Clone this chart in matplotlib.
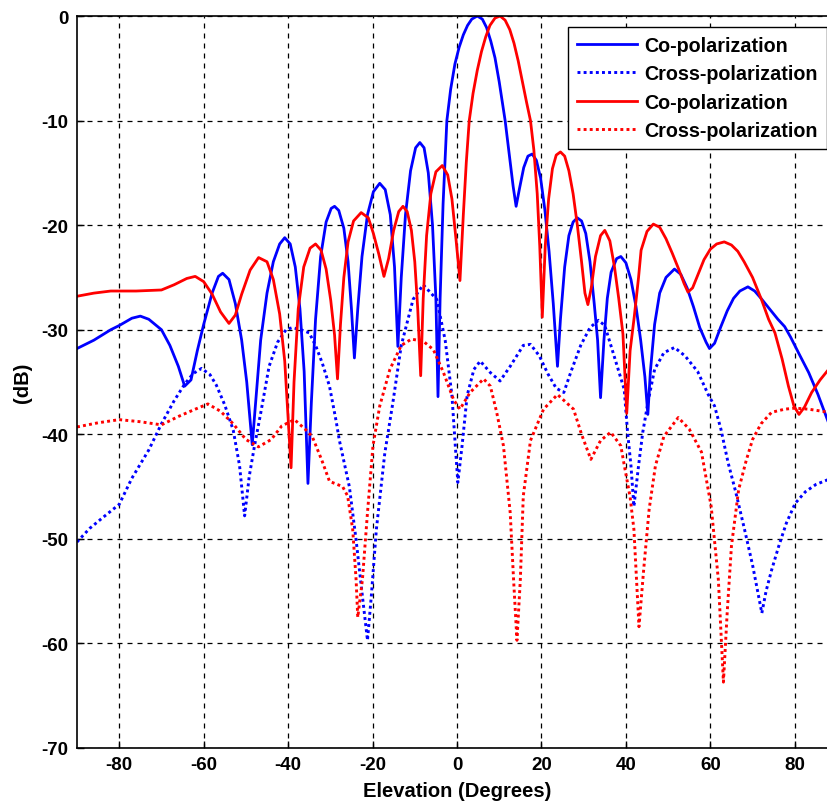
import matplotlib
matplotlib.use("Agg")
import matplotlib.pyplot as plt
from matplotlib import font_manager

# =====================================================
# DATA
# =====================================================

blue_co_x = [-90, -86, -82, -80, -77, -75, -73, -70, -68, -66, -64.5, -63, -61.5, -60, -58,
             -56.5, -55.5, -54, -52.5, -51, -49.8, -48.5, -47.5, -46.5, -45, -43.5, -42,
             -40.8, -39.5, -38.3, -37.2, -36.2, -35.3, -34.5, -33.5, -32.3, -31, -29.8, -29,
             -28, -26.8, -25.8, -25, -24.3, -23.5, -22.5, -21.2, -19.8, -18.3, -17, -15.8,
             -14.8, -14, -13.2, -12.2, -11, -9.8, -8.8, -7.8, -6.8, -5.8, -5, -4.5, -4, -3.3,
             -2.4, -1.5, -0.5, 0.5, 1.5, 2.5, 3.5, 4.8, 6, 7, 8, 9, 10, 11.4, 12.5, 13.3, 14,
             14.8, 15.8, 16.8, 17.8, 18.8, 19.8, 20.8, 21.8, 22.8, 23.8, 24.5, 25.5, 26.5,
             27.5, 28.5, 29.5, 30.5, 31.5, 32.5, 33.3, 34, 34.8, 35.6, 36.5, 37.8, 38.8, 40,
             41.2, 42.4, 43.5, 44.5, 45.2, 45.8, 46.8, 48, 49.5, 51.5, 53, 54.5, 56, 57.5, 59,
             59.8, 61, 62.5, 64, 65.5, 67, 68.9, 70.5, 72, 74, 76, 77.6, 79, 81, 83.3, 85.5,
             88, 90]
blue_co_y = [-31.8, -31.0, -30.0, -29.6, -28.9, -28.7, -29.0, -30.0, -31.5, -33.5, -35.4, -34.8,
             -32.0, -29.5, -26.5, -24.9, -24.6, -25.2, -27.5, -31, -35, -41, -36, -31, -26.5,
             -23.5, -21.8, -21.2, -21.8, -24, -28, -34, -44.7, -37, -29, -23, -19.7, -18.4,
             -18.2, -18.6, -20.3, -23.5, -28, -32.7, -28, -23, -19, -16.8, -16.0, -16.6, -19,
             -24, -31.6, -25, -19, -14.8, -12.6, -12.1, -12.6, -15, -20, -27, -36.4, -27, -18,
             -10, -7, -4.6, -3.0, -1.8, -0.9, -0.3, 0, -0.3, -1.1, -2.4, -4.0, -6.3, -10,
             -13.6, -16.3, -18.2, -16.5, -14.5, -13.4, -13.2, -13.8, -15.5, -18.5, -22.5,
             -27.5, -33.5, -29, -24, -21, -19.7, -19.3, -19.6, -20.8, -23.5, -27.5, -31,
             -36.5, -31, -27, -24.5, -23.2, -23.0, -23.6, -25.2, -27.8, -31, -34.5, -38.1,
             -34, -29.5, -26.5, -25, -24.2, -24.7, -26, -27.8, -29.8, -31.2, -31.8, -31.3,
             -29.7, -28.2, -27, -26.3, -25.9, -26.3, -27, -28, -29.0, -29.7, -30.7, -32.3,
             -34.1, -36.2, -38.9, -40.5]

blue_cross_x = [-90, -87, -84, -80, -77, -73, -70, -67, -64.5, -62.5, -60.5, -58.5, -57, -55,
                -53, -51.5, -50.3, -49.2, -48, -46.5, -44.5, -42.5, -40.5, -39, -37, -35,
                -33.4, -31.9, -30.2, -28.6, -27.9, -25.5, -23.9, -22.4, -21.2, -20.3, -19.1,
                -17.1, -15.2, -13.2, -10.4, -8.0, -4.8, -2.8, -1.2, -0.4, 0.2, 1.2, 2.4, 4,
                5.5, 7.9, 10.2, 12.6, 15.7, 17.4, 19.5, 21.5, 23.5, 25.3, 27, 29.3, 31.5,
                33.5, 35, 37.2, 39.6, 40.4, 41.2, 41.9, 43, 44, 45.2, 46.8, 49, 51.5, 54, 57,
                59.5, 61, 62.5, 64.2, 66, 68.1, 70, 71.2, 72.2, 73.2, 74.5, 76.2, 78, 80.1,
                82.5, 85, 88.1, 90]
blue_cross_y = [-50.3, -49.0, -48.0, -46.7, -44.2, -41.5, -39.0, -36.8, -35.2, -34.2, -33.7,
                -34.3, -35.3, -37.2, -39.6, -43, -47.8, -44, -41.2, -38, -33.5, -31.2, -30.0,
                -29.8, -30.0, -30.3, -31.6, -33.2, -35.4, -38.8, -40.5, -45, -50.1, -55.5,
                -59.7, -55.5, -49.1, -41.8, -37, -31.5, -27.1, -25.7, -27.1, -31, -36.3,
                -41.1, -44.6, -41.1, -36.3, -33.8, -33.0, -34.1, -34.9, -33.5, -31.5, -31.4,
                -32.5, -34.2, -35.6, -36.0, -34, -31.5, -29.8, -29.1, -29.6, -32.5, -35.7,
                -39.8, -43, -46.9, -43, -39.8, -37, -33.8, -32.2, -31.7, -32.5, -34.0, -36.2,
                -37.3, -39.5, -42.7, -45.5, -49.1, -52.5, -55, -57.1, -55, -53, -50.7, -48.5,
                -46.6, -45.5, -44.8, -44.3, -44.1]

red_co_x = [-90, -86, -82, -76, -70, -67, -64, -62, -60, -58, -56, -54, -52.5, -51, -49, -47,
            -45, -43.5, -42, -40.8, -39.3, -38.6, -37.6, -36.3, -34.8, -33.5, -32.2, -31,
            -29.9, -29, -28.3, -27.6, -26.8, -25.8, -24.5, -22.7, -21, -19.8, -18.5, -17.3,
            -16.2, -15, -13.8, -12.8, -11.8, -10.8, -10, -9.3, -8.6, -8, -7.2, -6.2, -5, -3.5,
            -2.2, -1.2, -0.2, 0.7, 1.5, 2.2, 2.9, 3.8, 4.8, 5.8, 6.8, 7.8, 9, 10.2, 11.4, 12.5,
            13.5, 14.5, 15.5, 16.5, 17.4, 18.2, 19, 19.6, 20.2, 20.9, 21.7, 22.6, 23.5, 24.5,
            25.5, 26.5, 27.5, 28.5, 29.5, 30.3, 31, 31.8, 32.8, 34, 35, 36.2, 37.3, 38.3, 39.3,
            40.2, 41, 42, 43, 43.6, 45, 46.5, 48, 49.5, 51, 52.5, 53.8, 54.7, 55.8, 57, 58.5,
            60, 61.5, 63.3, 65, 66.5, 68, 70, 72.1, 73.8, 75.3, 77, 78.5, 79.8, 81, 82.3, 84,
            86, 88, 90]
red_co_y = [-26.8, -26.5, -26.3, -26.3, -26.2, -25.7, -25.1, -24.9, -25.4, -26.6, -28.3, -29.4,
            -28.6, -26.6, -24.3, -23.1, -23.5, -25.2, -28.5, -33, -43.2, -35, -28, -24, -22.2,
            -21.8, -22.4, -24.2, -27.2, -30.5, -34.7, -29.5, -25, -21.6, -19.6, -18.8, -19.3,
            -20.8, -22.8, -24.9, -23.2, -20.5, -18.7, -18.2, -18.7, -20.5, -23.5, -28, -34.4,
            -27, -21, -17, -14.9, -14.3, -15.2, -17.5, -21.5, -25.3, -19, -14, -10, -7.4,
            -5.2, -3.4, -2.0, -0.9, -0.2, 0, -0.4, -1.3, -2.6, -4.3, -6.3, -8.3, -10, -12.8,
            -17, -22, -28.8, -22, -17.5, -14.6, -13.3, -13.0, -13.4, -14.8, -17, -20, -23.5,
            -26.5, -27.6, -26, -23, -21, -20.5, -21.5, -24, -27, -30.4, -38.0, -32, -28.7,
            -25, -22.4, -20.6, -19.9, -20.2, -21.3, -22.7, -24.2, -25.6, -26.4, -26.0, -24.8,
            -23.3, -22.3, -21.8, -21.6, -21.9, -22.5, -23.5, -25, -27.1, -29, -30.3, -32.8,
            -35.4, -37.3, -38.1, -37.4, -36, -34.8, -33.8, -33]

red_cross_x = [-90, -85, -80, -75, -70, -66, -62, -59, -56, -53, -50, -47, -44, -41.5, -38.5,
               -36, -34.3, -32, -30.2, -27.1, -25.9, -24.7, -23.9, -23.5, -22.4, -21.2, -19.9,
               -18.3, -15.9, -13.2, -10.8, -8.0, -5.6, -3.2, -0.8, 0.7, 3.1, 6.3, 7.9, 9.4,
               11, 12.6, 13.4, 14.2, 15, 15.7, 17.4, 20.5, 23.8, 27.6, 29.5, 31.7, 34, 36.4,
               38.8, 39.5, 41.0, 41.9, 43.1, 44.2, 45.5, 47, 49, 52.4, 55, 57.9, 60.2, 61.9,
               63.1, 64, 65, 66.7, 68.5, 70, 72, 74.5, 77.6, 80, 83.3, 88.1, 90]
red_cross_y = [-39.3, -38.9, -38.6, -38.8, -39.1, -38.3, -37.6, -37.1, -37.8, -39.0, -40.5,
               -41.2, -40.5, -39.2, -38.6, -39.5, -40.2, -42.5, -44.5, -45, -45.9, -49.1,
               -53.9, -57.5, -53.9, -47.5, -41.1, -37.3, -33.8, -31.5, -30.9, -31.1, -31.9,
               -34.1, -36.7, -37.6, -36.0, -34.7, -35.4, -37.9, -41.1, -47.5, -53.9, -59.7,
               -53.9, -45.9, -40.6, -37.6, -36.2, -37.6, -40, -42.4, -40.6, -39.8, -41.1,
               -42.7, -46, -49.1, -58.4, -53, -47.2, -43, -40.2, -38.4, -39.5, -41.7, -46.9,
               -53.9, -63.7, -57, -50.7, -45.3, -42.5, -40.5, -39, -37.9, -37.6, -37.5,
               -37.6, -37.9, -38]

legend_labels = ["Co-polarization", "Cross-polarization",
                 "Co-polarization", "Cross-polarization"]

# =====================================================
# FONTS
# =====================================================

plt.rcParams['font.family'] = ['Liberation Sans', 'DejaVu Sans']
plt.rcParams['font.weight'] = 'bold'
plt.rcParams['axes.unicode_minus'] = False

installed = {f.name for f in font_manager.fontManager.ttflist}
if 'Liberation Sans Narrow' in installed:
    tick_family, tick_size = 'Liberation Sans Narrow', 15
else:
    tick_family, tick_size = 'Liberation Sans', 13.5

# =====================================================
# PLOT
# =====================================================

fig = plt.figure(figsize=(8.28, 8.03), dpi=100)
ax = fig.add_axes([77 / 828, 54 / 803, 760 / 828, 732 / 803])

dotted = (0, (1, 1.1))

ax.plot(blue_co_x, blue_co_y, color='#0000ff', lw=2.0, label=legend_labels[0])
ax.plot(blue_cross_x, blue_cross_y, color='#0000ff', lw=2.1, linestyle=dotted,
        label=legend_labels[1])
ax.plot(red_co_x, red_co_y, color='#ff0000', lw=2.0, label=legend_labels[2])
ax.plot(red_cross_x, red_cross_y, color='#ff0000', lw=2.1, linestyle=dotted,
        label=legend_labels[3])

ax.set_xlim(-90, 90)
ax.set_ylim(-70, 0)
ax.set_xticks(range(-80, 81, 20))
ax.set_yticks(range(-70, 1, 10))

ax.grid(True, color='black', linestyle=(0, (4, 4)), linewidth=0.9)
ax.tick_params(direction='in', length=5, width=1, pad=6)
for lbl in ax.get_xticklabels() + ax.get_yticklabels():
    lbl.set_family(tick_family)
    lbl.set_fontsize(tick_size)
    lbl.set_fontweight('bold')
for spine in ax.spines.values():
    spine.set_linewidth(1.2)

ax.set_xlabel("Elevation (Degrees)", fontsize=14.5, fontweight='bold')
ax.set_ylabel("(dB)", fontsize=14.5, fontweight='bold')
ax.xaxis.set_label_coords(0.5, (749 - 782) / 732)
ax.yaxis.set_label_coords((32 - 77) / 760, 0.5)

leg = ax.legend(loc='upper right', bbox_to_anchor=(827 / 828, 1 - 28 / 803),
                bbox_transform=fig.transFigure, fontsize=14.2, handlelength=3.05,
                labelspacing=0.48, fancybox=False, framealpha=1, borderpad=0.45,
                handletextpad=0.4, borderaxespad=0)
leg.get_frame().set_edgecolor('black')
leg.get_frame().set_linewidth(1.0)

fig.savefig("out.png", dpi=100)
plt.close(fig)
